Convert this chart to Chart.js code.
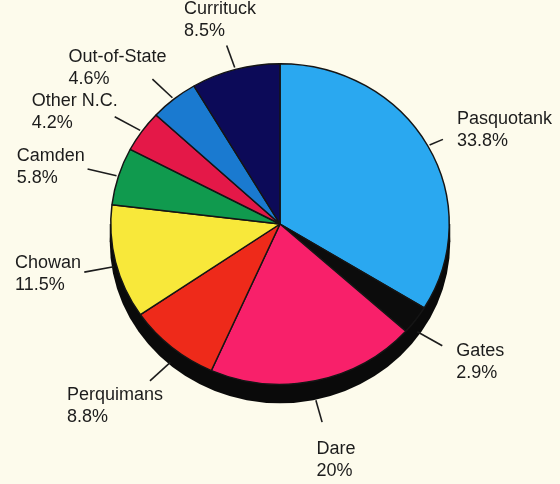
<!DOCTYPE html>
<html>
<head>
<meta charset="utf-8">
<script src="https://cdn.jsdelivr.net/npm/chart.js@4.4.1/dist/chart.umd.min.js"></script>
<style>
  html, body { margin: 0; padding: 0; background: #fdfbec; }
  #wrap { position: relative; width: 560px; height: 484px; }
</style>
</head>
<body>
<div id="wrap"><canvas id="pieChart"></canvas></div>
<script>
// Data
const counties = ['Pasquotank', 'Gates', 'Dare', 'Perquimans', 'Chowan', 'Camden', 'Other N.C.', 'Out-of-State', 'Currituck'];
const shares = [33.8, 2.9, 20, 8.8, 11.5, 5.8, 4.2, 4.6, 8.5];
const shareLabels = ['33.8%', '2.9%', '20%', '8.8%', '11.5%', '5.8%', '4.2%', '4.6%', '8.5%'];
const sliceColors = ['#2aa8f0', '#0c0c0c', '#f8206a', '#ee2a1a', '#f8e83a', '#109a4e', '#e41848', '#1a7ad0', '#0c0a58'];

// tilt / depth of the pseudo 3D pie
const tilt = 161 / 170;
const depth = 18;

// squash the pie vertically and draw the black side underneath
const tiltPlugin = {
    id: 'tilt',
    beforeDatasetsDraw(chart) {
        const arc = chart.getDatasetMeta(0).data[0];
        if (!arc) return;
        const ctx = chart.ctx;
        const cx = arc.x, cy = arc.y, r = arc.outerRadius;
        ctx.save();
        ctx.fillStyle = '#0a0a0a';
        ctx.beginPath();
        ctx.ellipse(cx, cy + depth, r + 1, r * tilt + 1, 0, 0, Math.PI * 2);
        ctx.fill();
        ctx.fillRect(cx - r - 1, cy, 2 * r + 2, depth);
        ctx.restore();
        ctx.save();
        ctx.translate(cx, cy);
        ctx.scale(1, tilt);
        ctx.translate(-cx, -cy);
    },
    afterDatasetsDraw(chart) {
        chart.ctx.restore();
    }
};

// outside labels with leader lines
const labelPlugin = {
    id: 'outLabels',
    afterDraw(chart) {
        const ctx = chart.ctx;
        const meta = chart.getDatasetMeta(0);
        const lineH = 22;
        ctx.save();
        ctx.font = '18px "Liberation Sans", Arial, sans-serif';
        ctx.fillStyle = '#1c1c1c';
        ctx.strokeStyle = '#1c1c1c';
        ctx.lineWidth = 1.6;
        ctx.textBaseline = 'top';
        ctx.textAlign = 'left';
        meta.data.forEach((arc, i) => {
            const mid = (arc.startAngle + arc.endAngle) / 2;
            const dx = Math.cos(mid), dy = Math.sin(mid);
            const r = arc.outerRadius;
            const rimX = arc.x + r * dx;
            const rimY = arc.y + r * tilt * dy + (dy > 0 ? depth * dy : 0);
            // leader leans a bit towards horizontal
            const n = Math.hypot(dx, dy * 0.75);
            const ux = dx / n, uy = dy * 0.75 / n;
            let len = 22 + 10 * Math.abs(ux);
            let x2 = rimX + len * ux, y2 = rimY + len * uy;
            const lines = [counties[i], shareLabels[i]];
            const w = Math.max(...lines.map(t => ctx.measureText(t).width));
            const h = lineH * 2;
            let bx = x2 - w * (0.35 - 0.65 * ux) + ux * 4;
            bx = Math.max(6, Math.min(bx, chart.width - w - 8));
            const vy = uy < 0 ? 28 * uy * uy * uy : 46 * uy - 4;
            const by = y2 + vy - h / 2;
            // keep the leader clear of a label pushed back inside the canvas
            if (ux > 0.5 && x2 > bx - 14) {
                len = Math.max(12, (bx - 14 - rimX) / ux);
                x2 = rimX + len * ux;
                y2 = rimY + len * uy;
            }
            ctx.beginPath();
            ctx.moveTo(rimX + 2 * ux, rimY + 2 * uy);
            ctx.lineTo(x2, y2);
            ctx.stroke();
            lines.forEach((t, k) => ctx.fillText(t, bx, by + k * lineH));
        });
        ctx.restore();
    }
};

const ctx = document.getElementById('pieChart').getContext('2d');
new Chart(ctx, {
    type: 'pie',
    data: {
        labels: counties,
        datasets: [{
            data: shares,
            backgroundColor: sliceColors,
            borderColor: '#151515',
            borderWidth: 1.5
        }]
    },
    options: {
        responsive: true,
        maintainAspectRatio: false,
        animation: false,
        events: [],
        layout: { padding: { top: 54, bottom: 90, left: 0, right: 0 } },
        plugins: {
            legend: { display: false },
            tooltip: { enabled: false }
        }
    },
    plugins: [tiltPlugin, labelPlugin]
});
</script>
</body>
</html>
